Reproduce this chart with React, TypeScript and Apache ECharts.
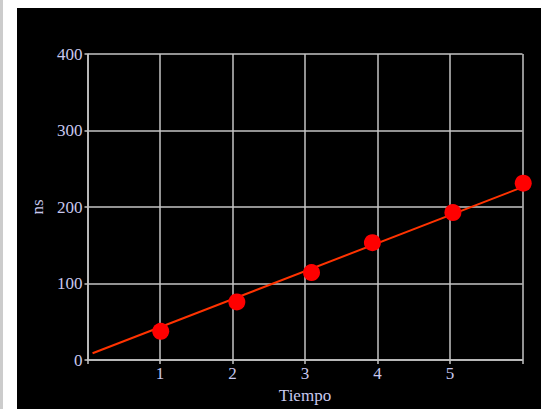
import React, { useEffect, useRef } from "react";
import * as echarts from "echarts";

const xValues = [1.01, 2.06, 3.09, 3.93, 5.04, 6.01];
const yValues = [37.6, 76, 114.4, 153.5, 192.8, 231.2];
const fitX = [0.07, 6.0];
const fitY = [9, 226];
const xTickLabels = ["", "1", "2", "3", "4", "5", ""];

export default function App() {
  const ref = useRef<HTMLDivElement>(null);
  useEffect(() => {
    if (!ref.current) return;
    const chart = echarts.init(ref.current, null, { renderer: "svg" });
    const font = "'Liberation Serif', 'Times New Roman', serif";
    const labelColor = "#c8c8ee";
    const gridColor = "#c4c4c4";
    chart.setOption({
      animation: false,
      backgroundColor: "#000000",
      grid: { left: 70.5, top: 46, right: 18.5, bottom: 42.3, containLabel: false },
      xAxis: {
        type: "value",
        min: 0,
        max: 6,
        interval: 1,
        name: "Tiempo",
        nameLocation: "middle",
        nameGap: 18,
        nameTextStyle: { color: labelColor, fontFamily: font, fontSize: 17 },
        axisLine: { show: true, lineStyle: { color: gridColor, width: 1.5 } },
        axisTick: { show: true, length: 4, lineStyle: { color: gridColor, width: 1.5 } },
        axisLabel: {
          color: labelColor,
          fontFamily: font,
          fontSize: 17,
          margin: 5,
          formatter: (v: number) => xTickLabels[Math.round(v)] ?? "",
        },
        splitLine: { show: true, lineStyle: { color: gridColor, width: 1.5 } },
      },
      yAxis: {
        type: "value",
        min: 0,
        max: 400,
        interval: 100,
        name: "ns",
        nameLocation: "middle",
        nameRotate: 90,
        nameGap: 33,
        nameTextStyle: { color: labelColor, fontFamily: font, fontSize: 17 },
        axisLine: { show: true, lineStyle: { color: gridColor, width: 1.5 } },
        axisTick: { show: true, length: 3, lineStyle: { color: gridColor, width: 1.5 } },
        axisLabel: { color: labelColor, fontFamily: font, fontSize: 17, margin: 5 },
        splitLine: { show: true, lineStyle: { color: gridColor, width: 1.5 } },
      },
      series: [
        {
          type: "line",
          data: fitX.map((x, i) => [x, fitY[i]]),
          showSymbol: false,
          symbol: "none",
          lineStyle: { color: "#ff3300", width: 2 },
          z: 2,
        },
        {
          type: "scatter",
          data: xValues.map((x, i) => [x, yValues[i]]),
          symbol: "circle",
          symbolSize: 17,
          clip: false,
          itemStyle: { color: "#ff0000", opacity: 1 },
          z: 3,
        },
      ],
    });
    return () => chart.dispose();
  }, []);

  return (
    <div style={{ position: "fixed", left: 0, top: 0, width: 541, height: 409, background: "#ffffff" }}>
      <div style={{ position: "absolute", left: 0, top: 0, width: 3, height: 409, background: "#cccccc" }} />
      <div
        ref={ref}
        style={{ position: "absolute", left: 17, top: 8, width: 524, height: 401 }}
      />
    </div>
  );
}
